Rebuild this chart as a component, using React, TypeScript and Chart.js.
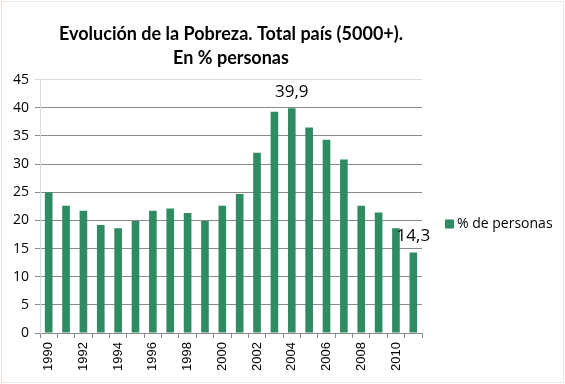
import React, { useEffect, useRef } from "react";
import { Chart, registerables } from "chart.js";

Chart.register(...registerables);

const years = ["1990","1991","1992","1993","1994","1995","1996","1997","1998","1999","2000","2001","2002","2003","2004","2005","2006","2007","2008","2009","2010","2011"];
const pobreza = [25.0, 22.6, 21.7, 19.2, 18.6, 19.9, 21.7, 22.1, 21.3, 19.9, 22.6, 24.7, 32.0, 39.3, 39.9, 36.5, 34.3, 30.8, 22.6, 21.4, 18.6, 14.3];
const labeledIndices = [14, 21];
const seriesName = "% de personas";
const titleLines = ["Evolución de la Pobreza. Total país (5000+).", "En % personas"];
const barColor = "#2e8b62";

export default function App() {
  const ref = useRef<HTMLCanvasElement | null>(null);
  useEffect(() => {
    document.body.style.margin = "0";
    const canvas = ref.current!;
    const extras = {
      id: "extras",
      beforeDraw(chart: any) {
        const c = chart.ctx;
        c.save();
        c.fillStyle = "#ffffff";
        c.fillRect(0, 0, chart.width, chart.height);
        c.strokeStyle = "#eee6dc";
        c.lineWidth = 1;
        c.strokeRect(1.5, 1.5, chart.width - 3, chart.height - 3);
        c.restore();
      },
      afterDatasetsDraw(chart: any) {
        const c = chart.ctx;
        const meta = chart.getDatasetMeta(0);
        c.save();
        c.fillStyle = "#000";
        c.font = "17px 'Open Sans', sans-serif";
        c.textAlign = "center";
        c.textBaseline = "middle";
        labeledIndices.forEach((i) => {
          const el = meta.data[i];
          c.fillText(String(pobreza[i]).replace(".", ","), el.x, el.y - 16);
        });
        // legend
        const lx = chart.chartArea.right + 23;
        const ly = 224;
        c.fillStyle = barColor;
        c.fillRect(lx, ly - 4.5, 9, 9);
        c.fillStyle = "#000";
        c.font = "14px 'Open Sans', sans-serif";
        c.textAlign = "left";
        c.fillText(seriesName, lx + 12, ly);
        c.restore();
      },
    };
    const chart = new Chart(canvas, {
      type: "bar",
      data: {
        labels: years,
        datasets: [
          {
            label: seriesName,
            data: pobreza,
            backgroundColor: barColor,
            categoryPercentage: 1,
            barPercentage: 0.44,
          },
        ],
      },
      options: {
        animation: false,
        responsive: false,
        layout: { padding: { left: 0, right: 143, top: 0, bottom: 0 } },
        plugins: {
          legend: { display: false },
          tooltip: { enabled: false },
          title: {
            display: true,
            fullSize: false,
            text: titleLines,
            color: "#000",
            font: { family: "Lato, 'Open Sans', sans-serif", size: 18, weight: "bold", lineHeight: 1.35 },
            padding: { top: 22, bottom: 9 },
          },
        },
        scales: {
          x: {
            afterFit: (s: any) => { s.height = 51; },
            grid: { display: true, drawOnChartArea: false, offset: true, color: "#8a8a8a", tickLength: 5 },
            border: { color: "#8a8a8a" },
            ticks: {
              autoSkip: false,
              minRotation: 90,
              maxRotation: 90,
              padding: 4,
              color: "#000",
              font: { family: "'Liberation Sans', Arial, sans-serif", size: 13 },
              callback: (_v: any, i: number) => (i % 2 === 0 ? years[i] : ""),
            },
          },
          y: {
            min: 0,
            max: 45,
            afterFit: (s: any) => { s.width = 40; },
            grid: {
              color: (ctx: any) => (ctx.tick && ctx.tick.value === 45 ? "#dcdcdc" : "#8a8a8a"),
              tickLength: 5,
            },
            border: { color: "#dcdcdc" },
            ticks: {
              stepSize: 5,
              padding: 6,
              color: "#000",
              font: { family: "'Open Sans', sans-serif", size: 14 },
            },
          },
        },
      },
      plugins: [extras],
    });
    return () => chart.destroy();
  }, []);
  return (
    <div style={{ position: "absolute", left: 0, top: 0, width: 565, height: 384 }}>
      <canvas ref={ref} width={565} height={384} />
    </div>
  );
}
